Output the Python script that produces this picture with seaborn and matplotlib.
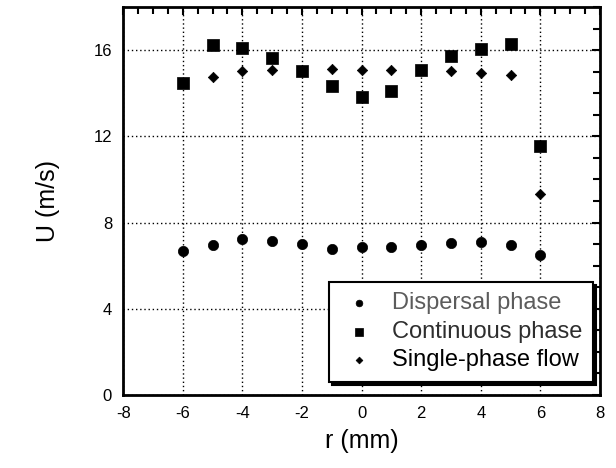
import numpy as np
import pandas as pd
import seaborn as sns
import matplotlib
matplotlib.use("Agg")
import matplotlib.pyplot as plt
from matplotlib.ticker import MultipleLocator

# Radial positions (mm) and measured mean velocities (m/s)
r_dispersal = [-6, -5, -4, -3, -2, -1, 0, 1, 2, 3, 4, 5, 6]
u_dispersal = [6.68, 6.98, 7.23, 7.14, 7.02, 6.78, 6.85, 6.86, 6.95, 7.03, 7.08, 6.94, 6.49]

r_continuous = [-6, -5, -4, -3, -2, -1, 0, 1, 2, 3, 4, 5, 6]
u_continuous = [14.46, 16.26, 16.08, 15.65, 15.02, 14.32, 13.83, 14.09, 15.08, 15.71, 16.05, 16.29, 11.54]

r_single = [-5, -4, -3, -2, -1, 0, 1, 2, 3, 4, 5, 6]
u_single = [14.75, 15.02, 15.06, 15.04, 15.11, 15.09, 15.08, 15.07, 15.02, 14.95, 14.83, 9.31]

series_names = ["Dispersal phase", "Continuous phase", "Single-phase flow"]
legend_colors = ["#5c5c5c", "#2e2e2e", "#000000"]

x_ticks = [-8, -6, -4, -2, 0, 2, 4, 6, 8]
y_ticks = [0, 4, 8, 12, 16]

df = pd.concat([
    pd.DataFrame({"r": r_dispersal, "U": u_dispersal, "series": series_names[0]}),
    pd.DataFrame({"r": r_continuous, "U": u_continuous, "series": series_names[1]}),
    pd.DataFrame({"r": r_single, "U": u_single, "series": series_names[2]}),
], ignore_index=True)

sns.set_theme(style="white")
plt.rcParams["font.family"] = ["Liberation Sans", "DejaVu Sans"]
plt.rcParams["axes.unicode_minus"] = False

fig = plt.figure(figsize=(6.16, 4.68), dpi=100)
ax = fig.add_axes([0.2, 0.156, 0.774, 0.829])

markers = {series_names[0]: "o", series_names[1]: "s", series_names[2]: "D"}
sizes = {series_names[0]: 55, series_names[1]: 80, series_names[2]: 28}

for name in series_names:
    sub = df[df["series"] == name]
    sns.scatterplot(data=sub, x="r", y="U", marker=markers[name], s=sizes[name],
                    color="black", edgecolor="black", linewidth=0.5, ax=ax,
                    label=name, zorder=3)

ax.set_xlim(-8, 8)
ax.set_ylim(0, 18)
ax.set_xticks(x_ticks)
ax.set_yticks(y_ticks)
ax.xaxis.set_minor_locator(MultipleLocator(0.5))
ax.yaxis.set_minor_locator(MultipleLocator(1))
ax.tick_params(which="both", direction="in", top=True, right=True,
               color="black", width=1.5, labelsize=12, labelcolor="black")
ax.tick_params(which="major", length=6, pad=8)
ax.tick_params(which="minor", length=5)

ax.grid(True, which="major", linestyle=(0, (1, 2)), color="black", linewidth=1.0)
for s in ax.spines.values():
    s.set_visible(True)
    s.set_color("black")
    s.set_linewidth(2)

ax.set_xlabel("r (mm)", fontsize=18, labelpad=6, color="black")
ax.set_ylabel("U (m/s)", fontsize=18, labelpad=24, color="black")

leg = ax.legend(loc="lower right", bbox_to_anchor=(0.985, 0.034), borderaxespad=0,
                frameon=True, fancybox=False,
                shadow={"color": "black", "alpha": 1, "ox": 2, "oy": -2},
                fontsize=17, labelspacing=0.27, handletextpad=0.6, borderpad=0.45,
                handlelength=1.6, markerscale=0.65)
leg.get_frame().set_edgecolor("black")
leg.get_frame().set_linewidth(1.5)
for txt, c in zip(leg.get_texts(), legend_colors):
    txt.set_color(c)

fig.savefig("out.png", dpi=100)
